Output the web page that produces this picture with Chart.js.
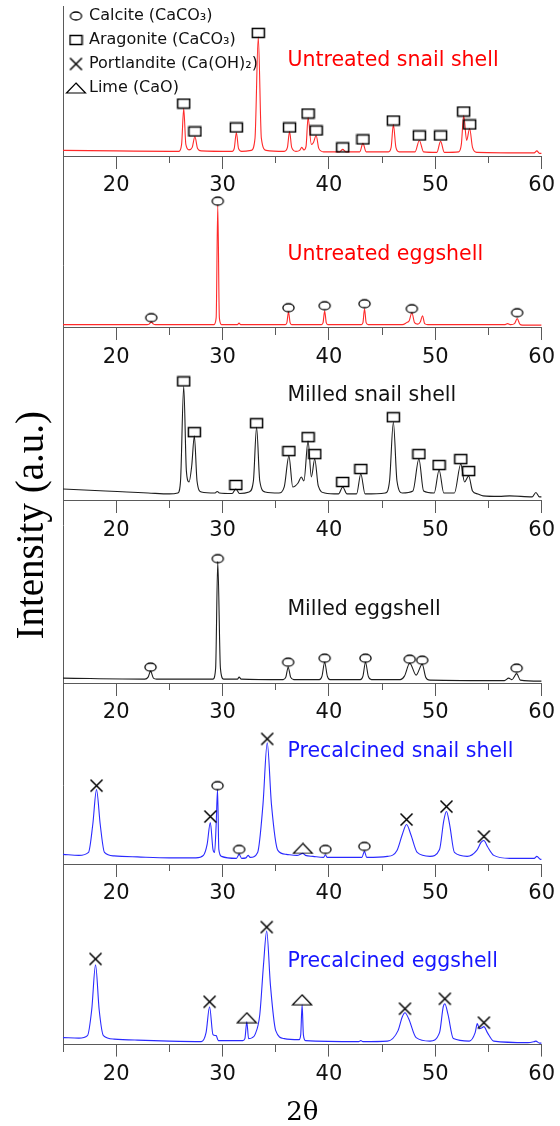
<!DOCTYPE html>
<html>
<head>
<meta charset="utf-8">
<script src="https://cdn.jsdelivr.net/npm/chart.js@4.4.1/dist/chart.umd.min.js"></script>
<style>
  html, body { margin: 0; padding: 0; background: #fff; }
  #wrap { position: relative; width: 560px; height: 1126px; }
</style>
</head>
<body>
<div id="wrap"><canvas id="xrd"></canvas></div>
<script>
// [2θ, intensity (a.u.)], top to bottom
const untreatedSnail = [[15,6],[20,5.5],[25,5],[25.9,5],[26.15,12],[26.35,48],[26.55,12],[26.85,6.5],[27.15,9],[27.4,20],[27.65,8],[28,5.5],[30.9,5],[31.1,8],[31.3,24],[31.5,8],[31.8,5],[32.7,6],[33.05,18],[33.36,120],[33.65,18],[34.1,6],[35.8,5],[36.1,9],[36.3,25],[36.5,9],[36.9,5],[37.25,6],[37.45,9],[37.65,6.5],[37.85,10],[38.04,39],[38.35,12],[38.55,14],[38.8,21],[39.05,8],[39.5,4.5],[41,4.5],[41.3,7],[41.6,4.5],[42.9,4.5],[43.2,13],[43.5,4.5],[45.6,4.5],[45.85,9],[46.06,32],[46.3,9],[46.6,4.5],[48.1,4.5],[48.5,16],[48.9,4.5],[50.15,4],[50.5,15],[50.85,4],[52.2,4.5],[52.45,12],[52.67,41],[52.95,16],[53.23,28],[53.5,9],[53.9,4],[59.3,3.5],[59.55,5.5],[59.8,3],[60,3]];
const untreatedEgg = [[15,3],[22.9,3],[23.1,3.5],[23.3,5.5],[23.5,3.5],[23.7,3],[29.2,3],[29.4,10],[29.55,123],[29.7,10],[29.9,3],[31.4,3],[31.55,4.5],[31.7,3],[35.9,3],[36.05,5],[36.2,16],[36.35,5],[36.5,3],[39.3,3],[39.45,5],[39.6,17],[39.75,5],[39.9,3],[43.05,3],[43.2,5],[43.35,19],[43.5,5],[43.7,3],[46.9,3],[47.3,5],[47.55,7],[47.8,15],[48.05,5],[48.35,3.5],[48.6,6],[48.8,12],[49,4],[49.3,3],[56.5,3],[56.8,4],[57.1,3],[57.45,4],[57.7,9],[57.95,3.5],[58.2,2.5],[60,2.5]];
const milledSnail = [[15,12],[17,11],[19,10],[21,9],[23,8],[25,7],[25.8,8],[26.05,20],[26.35,115],[26.6,30],[26.85,19],[27.1,35],[27.35,65],[27.6,20],[28,9],[29.3,8],[29.5,9.5],[29.7,8],[30.9,7.5],[31.25,12],[31.6,7.5],[32.5,9],[32.9,20],[33.2,74],[33.5,20],[34,9],[35.3,8],[35.8,14],[36.24,45],[36.6,14],[37.1,18],[37.4,24],[37.65,20],[38.04,60],[38.35,24],[38.67,42],[39,15],[39.6,8],[40.9,7],[41.3,14],[41.7,7],[42.6,7],[43,27],[43.4,7],[45.3,8],[45.7,20],[46.06,79],[46.4,20],[46.9,8],[47.9,10],[48.46,42],[48.9,10],[49.9,8],[50.36,31],[50.8,8],[51.8,8],[52.4,37],[52.75,19],[53.14,25],[53.5,10],[54,7],[54.5,5],[56,4.5],[57,5],[59.1,4],[59.46,8.5],[59.8,4],[60,4]];
const milledEgg = [[15,5],[22.7,4],[23,6],[23.23,12],[23.5,5],[23.8,4],[29.1,4],[29.35,15],[29.55,122],[29.8,15],[30.1,4],[31.4,4],[31.56,6],[31.75,4],[35.7,3.5],[35.95,6],[36.17,16],[36.4,6],[36.7,3.5],[39.1,3.5],[39.35,7],[39.6,21],[39.85,7],[40.1,3.5],[42.95,3.5],[43.2,7],[43.44,21],[43.7,7],[44,3.5],[46.7,3.5],[47.1,7],[47.6,20],[48.2,8],[48.77,19],[49.1,6],[49.5,3],[56.5,2.5],[56.9,5],[57.2,3.5],[57.65,9.5],[58,3],[60,2]];
const precalcinedSnail = [[15,10],[16.5,9],[17.4,12],[17.8,40],[18.15,75],[18.5,40],[18.9,12],[19.8,8.5],[22,7.5],[25,6.5],[27.5,6.5],[28.2,9],[28.55,20],[28.85,42],[29.1,15],[29.25,12],[29.4,40],[29.53,75],[29.65,15],[29.9,8],[31.3,6],[31.56,10],[31.8,6],[32.2,6.5],[32.4,9],[32.6,7],[33.3,12],[33.8,60],[34.2,122],[34.6,60],[35.2,14],[36,10],[37,9],[37.55,11],[37.8,9],[38.5,8],[39.5,7],[39.67,9.5],[39.85,7],[43.1,7],[43.34,13],[43.55,7],[45.5,8],[46.4,14],[46.9,30],[47.3,40],[47.7,30],[48.3,12],[49.5,8],[50.4,15],[50.8,44],[51.05,53],[51.35,40],[51.8,12],[53,8],[53.9,14],[54.3,22],[54.57,24],[54.9,18],[55.5,9],[57,6],[59.3,6],[59.55,8],[59.9,5],[60,5]];
const precalcinedEgg = [[15,7],[16.5,6.5],[17.3,9],[17.7,35],[18.06,80],[18.4,35],[18.8,9],[19.8,5.5],[22,4.5],[25,3.5],[28,3],[28.45,12],[28.78,38],[29.1,10],[29.4,9],[29.6,4],[31.9,4],[32.1,6],[32.28,23],[32.45,6],[32.8,7],[33.05,10],[33.5,30],[33.85,80],[34.15,114],[34.5,60],[35,14],[35.8,6],[37.2,5],[37.35,10],[37.48,40],[37.6,10],[37.8,4],[42.8,3],[43,4],[43.2,3],[45.5,3.5],[46.5,14],[46.9,28],[47.15,32],[47.5,26],[48.2,7],[49.5,3.5],[50.4,12],[50.75,38],[50.9,41],[51.2,30],[51.7,6],[53.2,3.5],[53.75,12],[53.95,21],[54.15,16],[54.4,17],[54.57,18],[54.9,12],[55.5,3.5],[58.7,2],[59.3,3],[59.46,3.5],[59.8,1.5],[60,1.5]];

// phase markers [2θ, intensity] per pattern
const untreatedSnailAragonite = [[26.35,53],[27.4,25],[31.3,29],[33.36,124],[36.3,29],[38.04,43],[38.8,26],[41.3,9],[43.2,17],[46.06,36],[48.5,21],[50.5,21],[52.67,45],[53.23,32]];
const untreatedEggCalcite = [[23.3,10],[29.55,127],[36.2,20],[39.6,22],[43.35,24],[47.8,19],[57.7,15]];
const milledSnailAragonite = [[26.35,120],[27.35,69],[31.25,16],[33.2,78],[36.24,50],[38.04,64],[38.67,47],[41.3,19],[43,32],[46.06,84],[48.46,47],[50.36,36],[52.4,42],[53.14,30]];
const milledEggCalcite = [[23.23,16],[29.55,125],[36.17,21],[39.6,25],[43.44,25],[47.6,24],[48.77,23],[57.65,15]];
const precalcinedSnailPortlandite = [[18.15,79],[28.85,48],[34.2,126],[47.3,45],[51.05,58],[54.57,28]];
const precalcinedSnailCalcite = [[29.53,79],[31.56,15],[39.67,15],[43.34,18]];
const precalcinedSnailLime = [[37.55,16]];
const precalcinedEggPortlandite = [[18.06,86],[28.78,43],[34.15,118],[47.15,36],[50.9,46],[54.57,22]];
const precalcinedEggLime = [[32.28,27],[37.48,45]];

const sampleNames = ["Untreated snail shell", "Untreated eggshell", "Milled snail shell", "Milled eggshell", "Precalcined snail shell", "Precalcined eggshell"];
const phaseNames = ["Calcite (CaCO\u2083)", "Aragonite (CaCO\u2083)", "Portlandite (Ca(OH)\u2082)", "Lime (CaO)"];
const xTicks = [20, 30, 40, 50, 60];

// layout: vertical offset of each pattern, label anchors
const panelBase = [892, 720, 546, 363, 181, 0];
const labelAnchor = [[36.1, 96], [36.1, 73], [36.1, 106], [36.1, 74], [36.1, 113], [36.1, 83]];
const curveColors = ["#ff2a2a", "#ff2a2a", "#1e1e1e", "#1e1e1e", "#2a2aff", "#2a2aff"];
const labelColors = ["#ff0000", "#ff0000", "#111111", "#111111", "#1616ff", "#1616ff"];
const curves = [untreatedSnail, untreatedEgg, milledSnail, milledEgg, precalcinedSnail, precalcinedEgg];

function makeMarker(w, h, draw) {
  const c = document.createElement("canvas");
  c.width = w;
  c.height = h;
  const ctx = c.getContext("2d");
  ctx.strokeStyle = "#000";
  ctx.lineWidth = 1.5;
  draw(ctx);
  return c;
}

const circleMark = makeMarker(15, 12, (ctx) => {
  ctx.lineWidth = 1.3;
  ctx.beginPath();
  ctx.ellipse(7.5, 6, 5.6, 4, 0, 0, Math.PI * 2);
  ctx.stroke();
});
const squareMark = makeMarker(15, 12, (ctx) => {
  ctx.strokeRect(1.5, 1.5, 12, 9);
});
const crossMark = makeMarker(15, 15, (ctx) => {
  ctx.beginPath();
  ctx.moveTo(1.5, 1.5); ctx.lineTo(13.5, 13.5);
  ctx.moveTo(13.5, 1.5); ctx.lineTo(1.5, 13.5);
  ctx.stroke();
});
const triangleMark = makeMarker(22, 12, (ctx) => {
  ctx.lineWidth = 1.2;
  ctx.beginPath();
  ctx.moveTo(11, 1);
  ctx.lineTo(20.5, 11);
  ctx.lineTo(1.5, 11);
  ctx.closePath();
  ctx.stroke();
});

function shift(points, panel) {
  return points.map(([t, v]) => ({ x: t, y: panelBase[panel] + v }));
}

const phaseSets = [
  { mark: circleMark, parts: [[1, untreatedEggCalcite], [3, milledEggCalcite], [4, precalcinedSnailCalcite]] },
  { mark: squareMark, parts: [[0, untreatedSnailAragonite], [2, milledSnailAragonite]] },
  { mark: crossMark, parts: [[4, precalcinedSnailPortlandite], [5, precalcinedEggPortlandite]] },
  { mark: triangleMark, parts: [[4, precalcinedSnailLime], [5, precalcinedEggLime]] }
];

const datasets = [];

phaseSets.forEach((p, i) => {
  datasets.push({
    type: "scatter",
    isPhase: true,
    label: phaseNames[i],
    data: p.parts.flatMap(([panel, pts]) => shift(pts, panel)),
    pointStyle: p.mark,
    pointRadius: 5,
    borderColor: "#000",
    backgroundColor: "rgba(0,0,0,0)",
    xAxisID: "x0",
    yAxisID: "y"
  });
});

curves.forEach((pts, i) => {
  datasets.push({
    type: "line",
    label: sampleNames[i],
    data: shift(pts, i),
    borderColor: curveColors[i],
    borderWidth: 1.1,
    pointRadius: 0,
    fill: false,
    cubicInterpolationMode: "monotone",
    xAxisID: "x" + i,
    yAxisID: "y"
  });
});

const tickFont = { family: "'DejaVu Sans'", size: 21 };
const scales = {
  y: {
    type: "linear",
    axis: "y",
    position: "left",
    min: 0,
    max: 1043,
    ticks: { display: false },
    grid: { display: false, drawTicks: false },
    border: { color: "#5a5a5a", width: 1 },
    title: {
      display: true,
      text: "Intensity (a.u.)",
      color: "#000",
      font: { family: "'Liberation Serif'", size: 39 },
      padding: { top: 9, bottom: 7.2 }
    }
  }
};

panelBase.forEach((base, i) => {
  const last = i === panelBase.length - 1;
  scales["x" + i] = {
    type: "linear",
    axis: "x",
    min: 15,
    max: 60,
    position: last ? "bottom" : { y: base },
    afterBuildTicks: (axis) => { axis.ticks = xTicks.map((v) => ({ value: v })); },
    ticks: { font: tickFont, color: "#111", padding: 5, maxRotation: 0 },
    grid: { drawOnChartArea: false, drawTicks: true, tickLength: 12, color: "#5a5a5a" },
    border: { color: "#5a5a5a", width: 1 },
    title: last ? {
      display: true,
      text: "2\u03b8",
      color: "#000",
      font: { family: "'DejaVu Serif'", size: 26, lineHeight: 0.97 },
      padding: { top: 9, bottom: 0 }
    } : { display: false }
  };
  scales["m" + i] = {
    type: "linear",
    axis: "x",
    display: true,
    min: 15,
    max: 60,
    position: { y: base },
    ticks: { display: false, stepSize: 5 },
    grid: { drawOnChartArea: false, drawTicks: true, tickLength: 7, color: "#5a5a5a" },
    border: { display: false }
  };
});

const panelLabels = {
  id: "panelLabels",
  afterDatasetsDraw(chart) {
    const { ctx } = chart;
    const xs = chart.scales.x0;
    const ys = chart.scales.y;
    ctx.save();
    ctx.font = "20.5px 'DejaVu Sans'";
    ctx.textAlign = "left";
    ctx.textBaseline = "middle";
    sampleNames.forEach((name, i) => {
      const [t, dy] = labelAnchor[i];
      ctx.fillStyle = labelColors[i];
      ctx.fillText(name, xs.getPixelForValue(t), ys.getPixelForValue(panelBase[i] + dy));
    });
    ctx.restore();
  }
};

new Chart(document.getElementById("xrd"), {
  type: "line",
  data: { datasets },
  options: {
    responsive: true,
    maintainAspectRatio: false,
    animation: false,
    events: [],
    layout: { padding: { left: 0, right: 16, top: 0, bottom: 0 } },
    scales,
    plugins: {
      tooltip: { enabled: false },
      legend: {
        position: "chartArea",
        align: "start",
        labels: {
          usePointStyle: true,
          boxWidth: 10,
          padding: 8,
          color: "#111",
          font: { family: "'DejaVu Sans'", size: 16 },
          filter: (item, data) => data.datasets[item.datasetIndex].isPhase === true
        }
      }
    }
  },
  plugins: [panelLabels]
});
</script>
</body>
</html>
